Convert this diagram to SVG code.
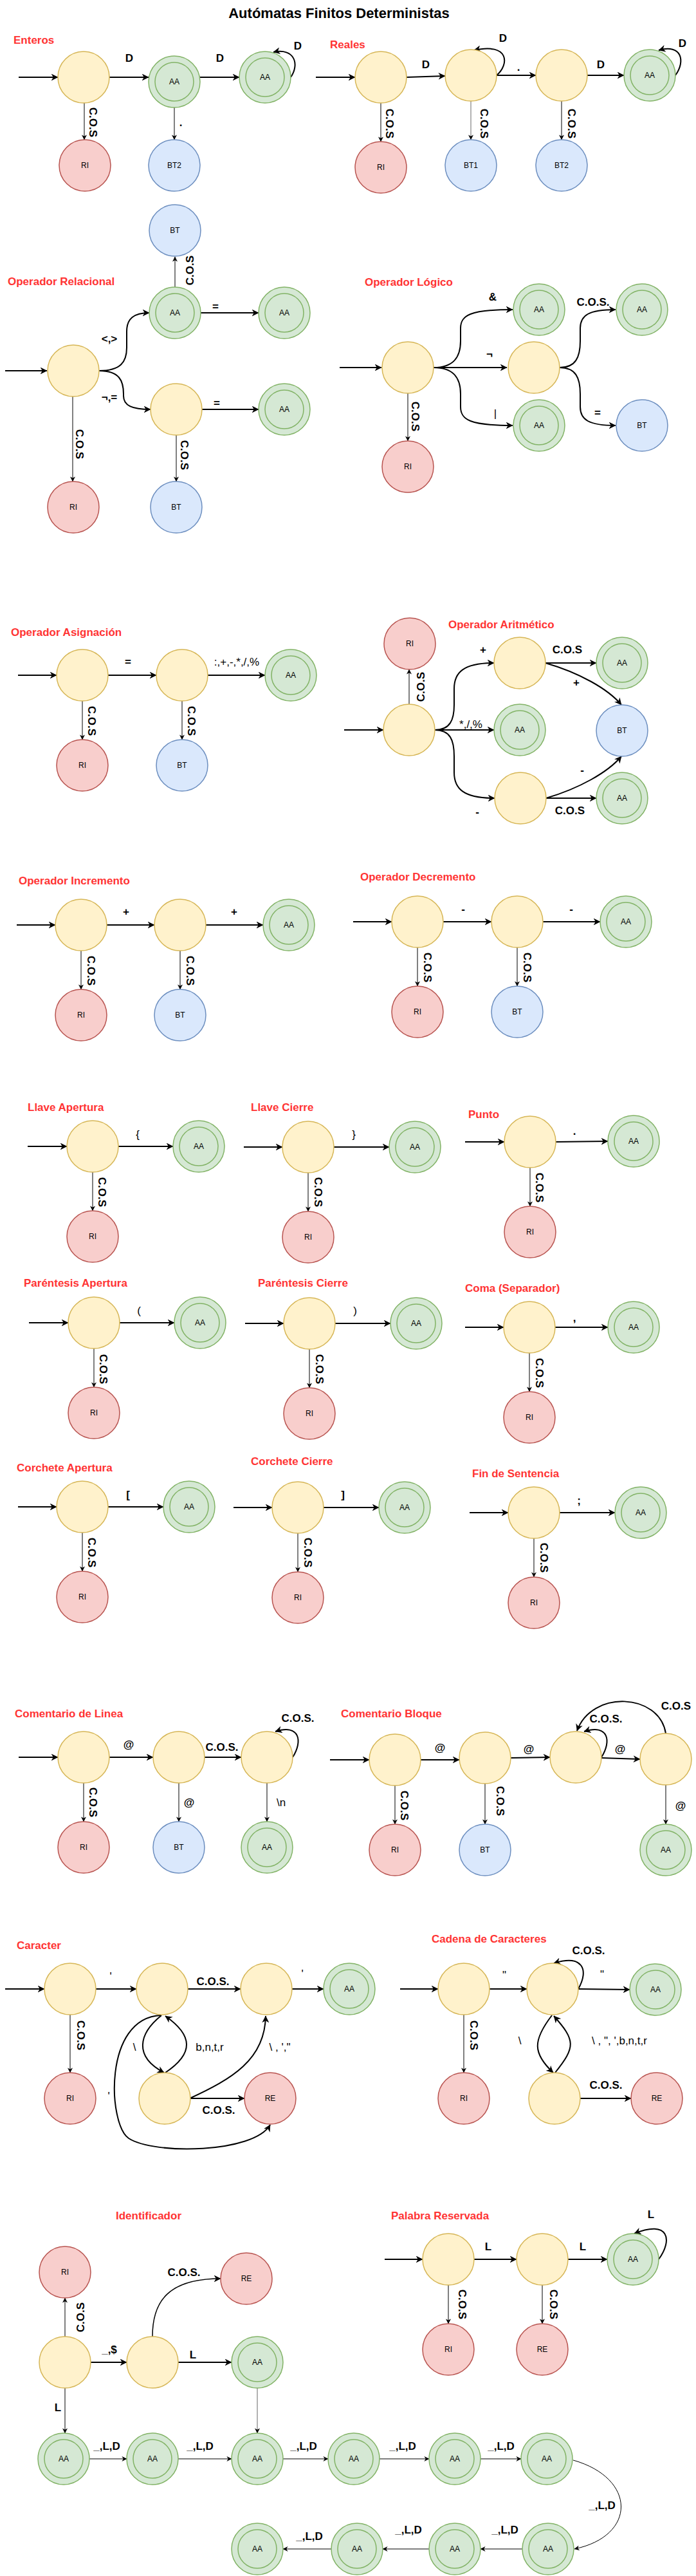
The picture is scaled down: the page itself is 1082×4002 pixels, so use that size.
<svg xmlns="http://www.w3.org/2000/svg" width="1082" height="4002" viewBox="0 0 1082 4002">
<style>
.y{fill:#fff2cc;stroke:#d6b656;stroke-width:1.5}
.g{fill:#d5e8d4;stroke:#82b366;stroke-width:1.5}
.r{fill:#f8cecc;stroke:#b85450;stroke-width:1.5}
.b{fill:#dae8fc;stroke:#6c8ebf;stroke-width:1.5}
text{font-family:"Liberation Sans",Arial,sans-serif;dominant-baseline:central}
.nt{font-size:12px;text-anchor:middle;fill:#000}
.t{fill:none;stroke:#000;stroke-width:2;marker-end:url(#ah)}
.n{fill:none;stroke:#000;stroke-width:1;marker-end:url(#as)}
.gr{stroke:#666}
.h{font-size:17px;font-weight:bold;fill:#ff3333}
.l{font-size:17px;font-weight:bold;text-anchor:middle;fill:#000}
.lr{font-size:17px;text-anchor:middle;fill:#000}
.tt{font-size:22px;font-weight:bold;text-anchor:middle;fill:#000}
</style>
<defs>
<marker id="ah" viewBox="0 0 10 10" refX="9.5" refY="5" markerWidth="11" markerHeight="11" markerUnits="userSpaceOnUse" orient="auto"><path d="M0,0 L10,5 L0,10 L3,5 Z" fill="#000"/></marker>
<marker id="as" viewBox="0 0 10 10" refX="9.5" refY="5" markerWidth="8" markerHeight="8" markerUnits="userSpaceOnUse" orient="auto"><path d="M0,0 L10,5 L0,10 L3,5 Z" fill="#000"/></marker>
</defs>
<rect width="1082" height="4002" fill="#fff"/>
<text class="tt" x="527" y="20">Autómatas Finitos Deterministas</text>

<g id="titles">
<text class="h" x="21" y="62">Enteros</text>
<text class="h" x="513" y="69">Reales</text>
<text class="h" x="12" y="437">Operador Relacional</text>
<text class="h" x="567" y="438">Operador Lógico</text>
<text class="h" x="17" y="982">Operador Asignación</text>
<text class="h" x="697" y="970">Operador Aritmético</text>
<text class="h" x="29" y="1368">Operador Incremento</text>
<text class="h" x="560" y="1362">Operador Decremento</text>
<text class="h" x="43" y="1720">Llave Apertura</text>
<text class="h" x="390" y="1720">Llave Cierre</text>
<text class="h" x="728" y="1731">Punto</text>
<text class="h" x="37" y="1993">Paréntesis Apertura</text>
<text class="h" x="401" y="1993">Paréntesis Cierre</text>
<text class="h" x="723" y="2001">Coma (Separador)</text>
<text class="h" x="26" y="2280">Corchete Apertura</text>
<text class="h" x="390" y="2270">Corchete Cierre</text>
<text class="h" x="734" y="2289">Fin de Sentencia</text>
<text class="h" x="23" y="2662">Comentario de Linea</text>
<text class="h" x="530" y="2662">Comentario Bloque</text>
<text class="h" x="26" y="3022">Caracter</text>
<text class="h" x="671" y="3012">Cadena de Caracteres</text>
<text class="h" x="180" y="3442">Identificador</text>
<text class="h" x="608" y="3442">Palabra Reservada</text>
</g>

<g id="connectors">
<!-- Enteros -->
<path class="t" d="M29,120 H90"/>
<path class="t" d="M170,120 H231"/>
<path class="t" d="M310,120 H372"/>
<path class="t" d="M452,120 C466,100 458,74 425,81"/>
<path class="n" d="M131,160 V217"/>
<path class="n" d="M271,167 V217"/>
<!-- Reales -->
<path class="t" d="M491,120 H552"/>
<path class="t" d="M632,120 L692,118"/>
<path class="t" d="M772,117 H833"/>
<path class="t" d="M913,117 H970"/>
<path class="t" d="M772,117 C792,100 792,66 737,78"/>
<path class="t" d="M1050,117 C1066,95 1060,68 1024,78"/>
<path class="n" d="M592,160 V220"/>
<path class="n gr" d="M732,157 V217"/>
<path class="n" d="M873,157 V217"/>
<!-- Relacional -->
<path class="t" d="M8,576 H73"/>
<path class="t" d="M154,576 C188,576 197,562 197,540 V515 C197,495 208,486 232,486"/>
<path class="t" d="M154,576 C186,576 192,592 192,612 V615 C192,630 205,636 234,636"/>
<path class="t" d="M312,486 H402"/>
<path class="t" d="M314,636 H402"/>
<path class="n" d="M272,446 V399"/>
<path class="n" d="M113,616 V748"/>
<path class="n" d="M274,676 V748"/>
<!-- Logico -->
<path class="t" d="M528,571 H593"/>
<path class="t" d="M674,571 C705,571 716,555 716,530 V510 C716,490 730,481 797,481"/>
<path class="t" d="M674,571 H788"/>
<path class="t" d="M674,571 C705,571 716,587 716,612 V632 C716,652 730,661 797,661"/>
<path class="t" d="M870,571 C895,571 902,555 902,530 V510 C902,490 915,481 957,481"/>
<path class="t" d="M870,571 C895,571 902,587 902,612 V632 C902,652 915,661 957,661"/>
<path class="n" d="M634,611 V685"/>
<!-- Asignacion -->
<path class="t" d="M28,1049 H88"/>
<path class="t" d="M168,1049 H243"/>
<path class="t" d="M323,1049 H412"/>
<path class="n" d="M128,1089 V1149"/>
<path class="n" d="M283,1089 V1149"/>
<!-- Aritmetico -->
<path class="t" d="M535,1134 H596"/>
<path class="n" d="M636,1094 V1040"/>
<path class="t" d="M676,1134 C700,1134 706,1118 706,1095 V1070 C706,1045 720,1030 768,1030"/>
<path class="t" d="M676,1134 H768"/>
<path class="t" d="M676,1134 C700,1134 706,1150 706,1175 V1200 C706,1225 720,1240 769,1240"/>
<path class="t" d="M848,1030 H927"/>
<path class="t" d="M848,1030 C900,1045 945,1070 966,1095"/>
<path class="t" d="M849,1240 H927"/>
<path class="t" d="M849,1240 C900,1225 945,1200 966,1175"/>
<!-- Incremento -->
<path class="t" d="M26,1437 H86"/>
<path class="t" d="M166,1437 H240"/>
<path class="t" d="M320,1437 H409"/>
<path class="n" d="M126,1477 V1537"/>
<path class="n" d="M280,1477 V1537"/>
<!-- Decremento -->
<path class="t" d="M549,1432 H609"/>
<path class="t" d="M689,1432 H764"/>
<path class="t" d="M844,1432 H933"/>
<path class="n" d="M649,1472 V1532"/>
<path class="n" d="M804,1472 V1532"/>
<!-- Llave Apertura -->
<path class="t" d="M43,1781 H104"/>
<path class="t" d="M184,1781 H269"/>
<path class="n" d="M144,1821 V1881"/>
<!-- Llave Cierre -->
<path class="t" d="M379,1782 H439"/>
<path class="t" d="M519,1782 H605"/>
<path class="n" d="M479,1822 V1882"/>
<!-- Punto -->
<path class="t" d="M723,1774 H784"/>
<path class="t" d="M864,1774 L945,1773"/>
<path class="n" d="M824,1814 V1874"/>
<!-- Parentesis Apertura -->
<path class="t" d="M45,2055 H106"/>
<path class="t" d="M186,2055 H271"/>
<path class="n" d="M146,2095 V2155"/>
<!-- Parentesis Cierre -->
<path class="t" d="M381,2056 H441"/>
<path class="t" d="M521,2056 H607"/>
<path class="n" d="M481,2096 V2156"/>
<!-- Coma -->
<path class="t" d="M723,2062 H783"/>
<path class="t" d="M863,2062 H945"/>
<path class="n" d="M823,2102 V2162"/>
<!-- Corchete Apertura -->
<path class="t" d="M28,2341 H88"/>
<path class="t" d="M168,2341 H254"/>
<path class="n" d="M128,2381 V2441"/>
<!-- Corchete Cierre -->
<path class="t" d="M363,2342 H423"/>
<path class="t" d="M503,2342 H589"/>
<path class="n" d="M463,2382 V2442"/>
<!-- Fin de Sentencia -->
<path class="t" d="M730,2350 H790"/>
<path class="t" d="M870,2350 H956"/>
<path class="n" d="M830,2390 V2450"/>
<!-- Comentario de Linea -->
<path class="t" d="M29,2730 H90"/>
<path class="t" d="M170,2730 H238"/>
<path class="t" d="M318,2730 H375"/>
<path class="t" d="M455,2730 C471,2705 466,2678 428,2690"/>
<path class="n" d="M130,2770 V2830"/>
<path class="n" d="M278,2770 V2830"/>
<path class="n" d="M415,2770 V2830"/>
<!-- Comentario Bloque -->
<path class="t" d="M513,2734 H574"/>
<path class="t" d="M654,2734 H714"/>
<path class="t" d="M794,2731 L855,2730"/>
<path class="t" d="M935,2731 L995,2733"/>
<path class="t" d="M935,2730 C951,2705 946,2678 908,2690"/>
<path class="t" d="M1035,2693 C1025,2630 920,2625 897,2689"/>
<path class="n" d="M614,2774 V2834"/>
<path class="n" d="M754,2771 V2834"/>
<path class="n" d="M1035,2773 V2834"/>
<!-- Caracter -->
<path class="t" d="M8,3090 H69"/>
<path class="t" d="M149,3090 H212"/>
<path class="t" d="M292,3090 H374"/>
<path class="t" d="M454,3090 H503"/>
<path class="n" d="M109,3130 V3220"/>
<path class="t" d="M251,3131 C215,3160 208,3195 255,3220"/>
<path class="t" d="M257,3220 C302,3190 300,3162 257,3132"/>
<path class="t" d="M295,3260 C360,3230 412,3200 413,3132"/>
<path class="t" d="M296,3260 H380"/>
<path class="t" d="M250,3131 C160,3135 168,3300 200,3322 C240,3348 395,3345 420,3301"/>
<!-- Cadena -->
<path class="t" d="M622,3090 H681"/>
<path class="t" d="M761,3090 H819"/>
<path class="t" d="M899,3090 C916,3060 906,3036 861,3050"/>
<path class="t" d="M899,3090 L979,3091"/>
<path class="n" d="M721,3130 V3220"/>
<path class="t" d="M858,3131 C828,3170 828,3190 860,3220"/>
<path class="t" d="M863,3220 C895,3180 895,3170 861,3132"/>
<path class="t" d="M902,3260 H981"/>
<!-- Identificador -->
<path class="n" d="M101,3630 V3570"/>
<path class="t" d="M141,3670 H197"/>
<path class="t" style="stroke-width:1.5" d="M237,3630 C237,3575 262,3540 343,3540"/>
<path class="t" d="M277,3670 H360"/>
<path class="n" d="M101,3710 V3780"/>
<path class="n gr" d="M400,3710 V3780"/>
<path class="n" d="M139,3820 H197"/>
<path class="n" d="M277,3820 H360"/>
<path class="n" d="M440,3820 H510"/>
<path class="n" d="M590,3820 H667"/>
<path class="n" d="M747,3820 H810"/>
<path class="n" d="M891,3822 C990,3850 990,3940 893,3960"/>
<path class="n" d="M812,3960 H747"/>
<path class="n" d="M667,3960 H595"/>
<path class="n" d="M515,3960 H440"/>
<!-- Palabra Reservada -->
<path class="t" d="M598,3510 H657"/>
<path class="t" d="M737,3510 H803"/>
<path class="t" d="M883,3510 H944"/>
<path class="t" d="M1024,3510 C1046,3480 1040,3448 986,3470"/>
<path class="n" d="M697,3550 V3610"/>
<path class="n" d="M843,3550 V3610"/>
</g>

<g id="edge-labels">
<text class="l" x="201" y="90">D</text>
<text class="l" x="342" y="90">D</text>
<text class="l" x="463" y="71">D</text>
<text class="l" x="144" y="190" transform="rotate(90 144 190)">C.O.S</text>
<text class="l" x="281" y="190">.</text>
<text class="l" x="662" y="100">D</text>
<text class="l" x="806" y="104">.</text>
<text class="l" x="934" y="100">D</text>
<text class="l" x="782" y="59">D</text>
<text class="l" x="1061" y="67">D</text>
<text class="l" x="605" y="192" transform="rotate(90 605 192)">C.O.S</text>
<text class="l" x="752" y="192" transform="rotate(90 752 192)">C.O.S</text>
<text class="l" x="888" y="192" transform="rotate(90 888 192)">C.O.S</text>

<text class="l" x="170" y="526">&lt;,&gt;</text>
<text class="l" x="170" y="617">¬,=</text>
<text class="l" x="335" y="476">=</text>
<text class="l" x="337" y="626">=</text>
<text class="l" x="295" y="420" transform="rotate(-90 295 420)">C.O.S</text>
<text class="l" x="123" y="690" transform="rotate(90 123 690)">C.O.S</text>
<text class="l" x="286" y="707" transform="rotate(90 286 707)">C.O.S</text>
<text class="l" x="766" y="461">&amp;</text>
<text class="l" x="761" y="550">¬</text>
<text class="lr" x="770" y="642">|</text>
<text class="l" x="922" y="469">C.O.S.</text>
<text class="l" x="929" y="641">=</text>
<text class="l" x="645" y="647" transform="rotate(90 645 647)">C.O.S</text>

<text class="l" x="199" y="1028">=</text>
<text class="lr" x="368" y="1028">:,+,-,*,/,%</text>
<text class="l" x="142" y="1120" transform="rotate(90 142 1120)">C.O.S</text>
<text class="l" x="297" y="1120" transform="rotate(90 297 1120)">C.O.S</text>
<text class="l" x="654" y="1067" transform="rotate(-90 654 1067)">C.O.S</text>
<text class="l" x="751" y="1009">+</text>
<text class="lr" x="732" y="1125">*,/,%</text>
<text class="l" x="742" y="1261">-</text>
<text class="l" x="882" y="1009">C.O.S</text>
<text class="l" x="896" y="1060">+</text>
<text class="l" x="886" y="1259">C.O.S</text>
<text class="l" x="905" y="1196">-</text>

<text class="l" x="196" y="1416">+</text>
<text class="l" x="364" y="1416">+</text>
<text class="l" x="141" y="1508" transform="rotate(90 141 1508)">C.O.S</text>
<text class="l" x="295" y="1508" transform="rotate(90 295 1508)">C.O.S</text>
<text class="l" x="720" y="1412">-</text>
<text class="l" x="888" y="1412">-</text>
<text class="l" x="664" y="1503" transform="rotate(90 664 1503)">C.O.S</text>
<text class="l" x="819" y="1503" transform="rotate(90 819 1503)">C.O.S</text>

<text class="lr" x="214" y="1762">{</text>
<text class="l" x="158" y="1852" transform="rotate(90 158 1852)">C.O.S</text>
<text class="lr" x="550" y="1762">}</text>
<text class="l" x="494" y="1852" transform="rotate(90 494 1852)">C.O.S</text>
<text class="l" x="893" y="1757">.</text>
<text class="l" x="838" y="1845" transform="rotate(90 838 1845)">C.O.S</text>

<text class="lr" x="216" y="2036">(</text>
<text class="l" x="160" y="2127" transform="rotate(90 160 2127)">C.O.S</text>
<text class="lr" x="552" y="2036">)</text>
<text class="l" x="496" y="2127" transform="rotate(90 496 2127)">C.O.S</text>
<text class="l" x="893" y="2047">,</text>
<text class="l" x="838" y="2133" transform="rotate(90 838 2133)">C.O.S</text>

<text class="l" x="199" y="2322">[</text>
<text class="l" x="142" y="2412" transform="rotate(90 142 2412)">C.O.S</text>
<text class="l" x="533" y="2322">]</text>
<text class="l" x="478" y="2412" transform="rotate(90 478 2412)">C.O.S</text>
<text class="l" x="900" y="2331">;</text>
<text class="l" x="845" y="2420" transform="rotate(90 845 2420)">C.O.S</text>

<text class="l" x="200" y="2710">@</text>
<text class="l" x="345" y="2714">C.O.S.</text>
<text class="l" x="463" y="2669">C.O.S.</text>
<text class="l" x="144" y="2800" transform="rotate(90 144 2800)">C.O.S</text>
<text class="l" x="294" y="2800">@</text>
<text class="lr" x="437" y="2800">\n</text>
<text class="l" x="684" y="2715">@</text>
<text class="l" x="822" y="2717">@</text>
<text class="l" x="964" y="2717">@</text>
<text class="l" x="942" y="2670">C.O.S.</text>
<text class="l" x="1051" y="2650">C.O.S</text>
<text class="l" x="628" y="2805" transform="rotate(90 628 2805)">C.O.S</text>
<text class="l" x="777" y="2798" transform="rotate(90 777 2798)">C.O.S</text>
<text class="l" x="1058" y="2805">@</text>

<text class="lr" x="172" y="3070">'</text>
<text class="l" x="331" y="3078">C.O.S.</text>
<text class="lr" x="470" y="3066">'</text>
<text class="l" x="125" y="3162" transform="rotate(90 125 3162)">C.O.S</text>
<text class="lr" x="209" y="3180">\</text>
<text class="lr" x="326" y="3180">b,n,t,r</text>
<text class="lr" x="435" y="3180">\ , ',"</text>
<text class="l" x="340" y="3278">C.O.S.</text>
<text class="lr" x="169" y="3256">'</text>

<text class="lr" x="784" y="3068">"</text>
<text class="l" x="915" y="3030">C.O.S.</text>
<text class="lr" x="936" y="3067">"</text>
<text class="l" x="736" y="3162" transform="rotate(90 736 3162)">C.O.S</text>
<text class="lr" x="808" y="3170">\</text>
<text class="lr" x="963" y="3170">\ , ", ',b,n,t,r</text>
<text class="l" x="942" y="3239">C.O.S.</text>

<text class="l" x="125" y="3600" transform="rotate(-90 125 3600)">C.O.S</text>
<text class="l" x="170" y="3650">_,$</text>
<text class="l" x="286" y="3530">C.O.S.</text>
<text class="l" x="300" y="3658">L</text>
<text class="l" x="90" y="3740">L</text>
<text class="l" x="166" y="3800">_,L,D</text>
<text class="l" x="311" y="3800">_,L,D</text>
<text class="l" x="472" y="3800">_,L,D</text>
<text class="l" x="626" y="3800">_,L,D</text>
<text class="l" x="779" y="3800">_,L,D</text>
<text class="l" x="936" y="3892">_,L,D</text>
<text class="l" x="785" y="3930">_,L,D</text>
<text class="l" x="635" y="3930">_,L,D</text>
<text class="l" x="481" y="3940">_,L,D</text>

<text class="l" x="759" y="3490">L</text>
<text class="l" x="906" y="3490">L</text>
<text class="l" x="1012" y="3440">L</text>
<text class="l" x="718" y="3580" transform="rotate(90 718 3580)">C.O.S</text>
<text class="l" x="860" y="3580" transform="rotate(90 860 3580)">C.O.S</text>
</g>

<!-- Enteros nodes -->
<g id="ent-s0"><circle class="y" cx="130" cy="120" r="40"/></g>
<g id="ent-aa1"><circle class="g" cx="271" cy="127" r="40"/><circle class="g" cx="271" cy="127" r="30"/><text class="nt" x="271" y="127">AA</text></g>
<g id="ent-aa2"><circle class="g" cx="412" cy="120" r="40"/><circle class="g" cx="412" cy="120" r="30"/><text class="nt" x="412" y="120">AA</text></g>
<g id="ent-ri"><circle class="r" cx="132" cy="257" r="40"/><text class="nt" x="132" y="257">RI</text></g>
<g id="ent-bt2"><circle class="b" cx="271" cy="257" r="40"/><text class="nt" x="271" y="257">BT2</text></g>
<!-- Reales -->
<g id="rea-s0"><circle class="y" cx="592" cy="120" r="40"/></g>
<g id="rea-s1"><circle class="y" cx="732" cy="117" r="40"/></g>
<g id="rea-s2"><circle class="y" cx="873" cy="117" r="40"/></g>
<g id="rea-aa"><circle class="g" cx="1010" cy="117" r="40"/><circle class="g" cx="1010" cy="117" r="30"/><text class="nt" x="1010" y="117">AA</text></g>
<g id="rea-ri"><circle class="r" cx="592" cy="260" r="40"/><text class="nt" x="592" y="260">RI</text></g>
<g id="rea-bt1"><circle class="b" cx="732" cy="257" r="40"/><text class="nt" x="732" y="257">BT1</text></g>
<g id="rea-bt2"><circle class="b" cx="873" cy="257" r="40"/><text class="nt" x="873" y="257">BT2</text></g>
<!-- Relacional -->
<g id="rel-s0"><circle class="y" cx="114" cy="576" r="40"/></g>
<g id="rel-aa1"><circle class="g" cx="272" cy="486" r="40"/><circle class="g" cx="272" cy="486" r="30"/><text class="nt" x="272" y="486">AA</text></g>
<g id="rel-aa2"><circle class="g" cx="442" cy="486" r="40"/><circle class="g" cx="442" cy="486" r="30"/><text class="nt" x="442" y="486">AA</text></g>
<g id="rel-s1"><circle class="y" cx="274" cy="636" r="40"/></g>
<g id="rel-aa3"><circle class="g" cx="442" cy="636" r="40"/><circle class="g" cx="442" cy="636" r="30"/><text class="nt" x="442" y="636">AA</text></g>
<g id="rel-ri"><circle class="r" cx="114" cy="788" r="40"/><text class="nt" x="114" y="788">RI</text></g>
<g id="rel-bt"><circle class="b" cx="274" cy="788" r="40"/><text class="nt" x="274" y="788">BT</text></g>
<g id="rel-bt0"><circle class="b" cx="272" cy="358" r="40"/><text class="nt" x="272" y="358">BT</text></g>
<!-- Logico -->
<g id="log-s0"><circle class="y" cx="634" cy="571" r="40"/></g>
<g id="log-aa1"><circle class="g" cx="838" cy="481" r="40"/><circle class="g" cx="838" cy="481" r="30"/><text class="nt" x="838" y="481">AA</text></g>
<g id="log-s1"><circle class="y" cx="830" cy="571" r="40"/></g>
<g id="log-aa2"><circle class="g" cx="998" cy="481" r="40"/><circle class="g" cx="998" cy="481" r="30"/><text class="nt" x="998" y="481">AA</text></g>
<g id="log-aa3"><circle class="g" cx="838" cy="661" r="40"/><circle class="g" cx="838" cy="661" r="30"/><text class="nt" x="838" y="661">AA</text></g>
<g id="log-bt"><circle class="b" cx="998" cy="661" r="40"/><text class="nt" x="998" y="661">BT</text></g>
<g id="log-ri"><circle class="r" cx="634" cy="725" r="40"/><text class="nt" x="634" y="725">RI</text></g>
<!-- Asignacion -->
<g id="asi-s0"><circle class="y" cx="128" cy="1049" r="40"/></g>
<g id="asi-s1"><circle class="y" cx="283" cy="1049" r="40"/></g>
<g id="asi-aa"><circle class="g" cx="452" cy="1049" r="40"/><circle class="g" cx="452" cy="1049" r="30"/><text class="nt" x="452" y="1049">AA</text></g>
<g id="asi-ri"><circle class="r" cx="128" cy="1189" r="40"/><text class="nt" x="128" y="1189">RI</text></g>
<g id="asi-bt"><circle class="b" cx="283" cy="1189" r="40"/><text class="nt" x="283" y="1189">BT</text></g>
<!-- Aritmetico -->
<g id="ari-ri"><circle class="r" cx="637" cy="1000" r="40"/><text class="nt" x="637" y="1000">RI</text></g>
<g id="ari-s0"><circle class="y" cx="636" cy="1134" r="40"/></g>
<g id="ari-sp"><circle class="y" cx="808" cy="1030" r="40"/></g>
<g id="ari-aa1"><circle class="g" cx="967" cy="1030" r="40"/><circle class="g" cx="967" cy="1030" r="30"/><text class="nt" x="967" y="1030">AA</text></g>
<g id="ari-aa2"><circle class="g" cx="808" cy="1134" r="40"/><circle class="g" cx="808" cy="1134" r="30"/><text class="nt" x="808" y="1134">AA</text></g>
<g id="ari-bt"><circle class="b" cx="967" cy="1135" r="40"/><text class="nt" x="967" y="1135">BT</text></g>
<g id="ari-sm"><circle class="y" cx="809" cy="1240" r="40"/></g>
<g id="ari-aa3"><circle class="g" cx="967" cy="1240" r="40"/><circle class="g" cx="967" cy="1240" r="30"/><text class="nt" x="967" y="1240">AA</text></g>
<!-- Incremento -->
<g id="inc-s0"><circle class="y" cx="126" cy="1437" r="40"/></g>
<g id="inc-s1"><circle class="y" cx="280" cy="1437" r="40"/></g>
<g id="inc-aa"><circle class="g" cx="449" cy="1437" r="40"/><circle class="g" cx="449" cy="1437" r="30"/><text class="nt" x="449" y="1437">AA</text></g>
<g id="inc-ri"><circle class="r" cx="126" cy="1577" r="40"/><text class="nt" x="126" y="1577">RI</text></g>
<g id="inc-bt"><circle class="b" cx="280" cy="1577" r="40"/><text class="nt" x="280" y="1577">BT</text></g>
<!-- Decremento -->
<g id="dec-s0"><circle class="y" cx="649" cy="1432" r="40"/></g>
<g id="dec-s1"><circle class="y" cx="804" cy="1432" r="40"/></g>
<g id="dec-aa"><circle class="g" cx="973" cy="1432" r="40"/><circle class="g" cx="973" cy="1432" r="30"/><text class="nt" x="973" y="1432">AA</text></g>
<g id="dec-ri"><circle class="r" cx="649" cy="1572" r="40"/><text class="nt" x="649" y="1572">RI</text></g>
<g id="dec-bt"><circle class="b" cx="804" cy="1572" r="40"/><text class="nt" x="804" y="1572">BT</text></g>
<!-- Llave Apertura -->
<g id="lla-s0"><circle class="y" cx="144" cy="1781" r="40"/></g>
<g id="lla-aa"><circle class="g" cx="309" cy="1781" r="40"/><circle class="g" cx="309" cy="1781" r="30"/><text class="nt" x="309" y="1781">AA</text></g>
<g id="lla-ri"><circle class="r" cx="144" cy="1921" r="40"/><text class="nt" x="144" y="1921">RI</text></g>
<!-- Llave Cierre -->
<g id="llc-s0"><circle class="y" cx="479" cy="1782" r="40"/></g>
<g id="llc-aa"><circle class="g" cx="645" cy="1782" r="40"/><circle class="g" cx="645" cy="1782" r="30"/><text class="nt" x="645" y="1782">AA</text></g>
<g id="llc-ri"><circle class="r" cx="479" cy="1922" r="40"/><text class="nt" x="479" y="1922">RI</text></g>
<!-- Punto -->
<g id="pun-s0"><circle class="y" cx="824" cy="1774" r="40"/></g>
<g id="pun-aa"><circle class="g" cx="985" cy="1773" r="40"/><circle class="g" cx="985" cy="1773" r="30"/><text class="nt" x="985" y="1773">AA</text></g>
<g id="pun-ri"><circle class="r" cx="824" cy="1914" r="40"/><text class="nt" x="824" y="1914">RI</text></g>
<!-- Parentesis Apertura -->
<g id="paa-s0"><circle class="y" cx="146" cy="2055" r="40"/></g>
<g id="paa-aa"><circle class="g" cx="311" cy="2055" r="40"/><circle class="g" cx="311" cy="2055" r="30"/><text class="nt" x="311" y="2055">AA</text></g>
<g id="paa-ri"><circle class="r" cx="146" cy="2195" r="40"/><text class="nt" x="146" y="2195">RI</text></g>
<!-- Parentesis Cierre -->
<g id="pac-s0"><circle class="y" cx="481" cy="2056" r="40"/></g>
<g id="pac-aa"><circle class="g" cx="647" cy="2056" r="40"/><circle class="g" cx="647" cy="2056" r="30"/><text class="nt" x="647" y="2056">AA</text></g>
<g id="pac-ri"><circle class="r" cx="481" cy="2196" r="40"/><text class="nt" x="481" y="2196">RI</text></g>
<!-- Coma -->
<g id="com-s0"><circle class="y" cx="823" cy="2062" r="40"/></g>
<g id="com-aa"><circle class="g" cx="985" cy="2062" r="40"/><circle class="g" cx="985" cy="2062" r="30"/><text class="nt" x="985" y="2062">AA</text></g>
<g id="com-ri"><circle class="r" cx="823" cy="2202" r="40"/><text class="nt" x="823" y="2202">RI</text></g>
<!-- Corchete Apertura -->
<g id="coa-s0"><circle class="y" cx="128" cy="2341" r="40"/></g>
<g id="coa-aa"><circle class="g" cx="294" cy="2341" r="40"/><circle class="g" cx="294" cy="2341" r="30"/><text class="nt" x="294" y="2341">AA</text></g>
<g id="coa-ri"><circle class="r" cx="128" cy="2481" r="40"/><text class="nt" x="128" y="2481">RI</text></g>
<!-- Corchete Cierre -->
<g id="coc-s0"><circle class="y" cx="463" cy="2342" r="40"/></g>
<g id="coc-aa"><circle class="g" cx="629" cy="2342" r="40"/><circle class="g" cx="629" cy="2342" r="30"/><text class="nt" x="629" y="2342">AA</text></g>
<g id="coc-ri"><circle class="r" cx="463" cy="2482" r="40"/><text class="nt" x="463" y="2482">RI</text></g>
<!-- Fin de Sentencia -->
<g id="fin-s0"><circle class="y" cx="830" cy="2350" r="40"/></g>
<g id="fin-aa"><circle class="g" cx="996" cy="2350" r="40"/><circle class="g" cx="996" cy="2350" r="30"/><text class="nt" x="996" y="2350">AA</text></g>
<g id="fin-ri"><circle class="r" cx="830" cy="2490" r="40"/><text class="nt" x="830" y="2490">RI</text></g>
<!-- Comentario de Linea -->
<g id="cl-s0"><circle class="y" cx="130" cy="2730" r="40"/></g>
<g id="cl-s1"><circle class="y" cx="278" cy="2730" r="40"/></g>
<g id="cl-s2"><circle class="y" cx="415" cy="2730" r="40"/></g>
<g id="cl-ri"><circle class="r" cx="130" cy="2870" r="40"/><text class="nt" x="130" y="2870">RI</text></g>
<g id="cl-bt"><circle class="b" cx="278" cy="2870" r="40"/><text class="nt" x="278" y="2870">BT</text></g>
<g id="cl-aa"><circle class="g" cx="415" cy="2870" r="40"/><circle class="g" cx="415" cy="2870" r="30"/><text class="nt" x="415" y="2870">AA</text></g>
<!-- Comentario Bloque -->
<g id="cb-s0"><circle class="y" cx="614" cy="2734" r="40"/></g>
<g id="cb-s1"><circle class="y" cx="754" cy="2731" r="40"/></g>
<g id="cb-s2"><circle class="y" cx="895" cy="2730" r="40"/></g>
<g id="cb-s3"><circle class="y" cx="1035" cy="2733" r="40"/></g>
<g id="cb-ri"><circle class="r" cx="614" cy="2874" r="40"/><text class="nt" x="614" y="2874">RI</text></g>
<g id="cb-bt"><circle class="b" cx="754" cy="2874" r="40"/><text class="nt" x="754" y="2874">BT</text></g>
<g id="cb-aa"><circle class="g" cx="1035" cy="2874" r="40"/><circle class="g" cx="1035" cy="2874" r="30"/><text class="nt" x="1035" y="2874">AA</text></g>
<!-- Caracter -->
<g id="car-s0"><circle class="y" cx="109" cy="3090" r="40"/></g>
<g id="car-s1"><circle class="y" cx="252" cy="3090" r="40"/></g>
<g id="car-s2"><circle class="y" cx="414" cy="3090" r="40"/></g>
<g id="car-aa"><circle class="g" cx="543" cy="3090" r="40"/><circle class="g" cx="543" cy="3090" r="30"/><text class="nt" x="543" y="3090">AA</text></g>
<g id="car-ri"><circle class="r" cx="109" cy="3260" r="40"/><text class="nt" x="109" y="3260">RI</text></g>
<g id="car-s3"><circle class="y" cx="256" cy="3260" r="40"/></g>
<g id="car-re"><circle class="r" cx="420" cy="3260" r="40"/><text class="nt" x="420" y="3260">RE</text></g>
<!-- Cadena -->
<g id="cad-s0"><circle class="y" cx="721" cy="3090" r="40"/></g>
<g id="cad-s1"><circle class="y" cx="859" cy="3090" r="40"/></g>
<g id="cad-aa"><circle class="g" cx="1019" cy="3091" r="40"/><circle class="g" cx="1019" cy="3091" r="30"/><text class="nt" x="1019" y="3091">AA</text></g>
<g id="cad-ri"><circle class="r" cx="721" cy="3260" r="40"/><text class="nt" x="721" y="3260">RI</text></g>
<g id="cad-s3"><circle class="y" cx="862" cy="3260" r="40"/></g>
<g id="cad-re"><circle class="r" cx="1021" cy="3260" r="40"/><text class="nt" x="1021" y="3260">RE</text></g>
<!-- Identificador -->
<g id="id-ri"><circle class="r" cx="101" cy="3530" r="40"/><text class="nt" x="101" y="3530">RI</text></g>
<g id="id-re"><circle class="r" cx="383" cy="3540" r="40"/><text class="nt" x="383" y="3540">RE</text></g>
<g id="id-s0"><circle class="y" cx="101" cy="3670" r="40"/></g>
<g id="id-s1"><circle class="y" cx="237" cy="3670" r="40"/></g>
<g id="id-aa0"><circle class="g" cx="400" cy="3670" r="40"/><circle class="g" cx="400" cy="3670" r="30"/><text class="nt" x="400" y="3670">AA</text></g>
<g id="id-r1"><circle class="g" cx="99" cy="3820" r="40"/><circle class="g" cx="99" cy="3820" r="30"/><text class="nt" x="99" y="3820">AA</text></g>
<g id="id-r2"><circle class="g" cx="237" cy="3820" r="40"/><circle class="g" cx="237" cy="3820" r="30"/><text class="nt" x="237" y="3820">AA</text></g>
<g id="id-r3"><circle class="g" cx="400" cy="3820" r="40"/><circle class="g" cx="400" cy="3820" r="30"/><text class="nt" x="400" y="3820">AA</text></g>
<g id="id-r4"><circle class="g" cx="550" cy="3820" r="40"/><circle class="g" cx="550" cy="3820" r="30"/><text class="nt" x="550" y="3820">AA</text></g>
<g id="id-r5"><circle class="g" cx="707" cy="3820" r="40"/><circle class="g" cx="707" cy="3820" r="30"/><text class="nt" x="707" y="3820">AA</text></g>
<g id="id-r6"><circle class="g" cx="850" cy="3820" r="40"/><circle class="g" cx="850" cy="3820" r="30"/><text class="nt" x="850" y="3820">AA</text></g>
<g id="id-r7"><circle class="g" cx="852" cy="3960" r="40"/><circle class="g" cx="852" cy="3960" r="30"/><text class="nt" x="852" y="3960">AA</text></g>
<g id="id-r8"><circle class="g" cx="707" cy="3960" r="40"/><circle class="g" cx="707" cy="3960" r="30"/><text class="nt" x="707" y="3960">AA</text></g>
<g id="id-r9"><circle class="g" cx="555" cy="3960" r="40"/><circle class="g" cx="555" cy="3960" r="30"/><text class="nt" x="555" y="3960">AA</text></g>
<g id="id-r10"><circle class="g" cx="400" cy="3960" r="40"/><circle class="g" cx="400" cy="3960" r="30"/><text class="nt" x="400" y="3960">AA</text></g>
<!-- Palabra Reservada -->
<g id="pr-s0"><circle class="y" cx="697" cy="3510" r="40"/></g>
<g id="pr-s1"><circle class="y" cx="843" cy="3510" r="40"/></g>
<g id="pr-aa"><circle class="g" cx="984" cy="3510" r="40"/><circle class="g" cx="984" cy="3510" r="30"/><text class="nt" x="984" y="3510">AA</text></g>
<g id="pr-ri"><circle class="r" cx="697" cy="3650" r="40"/><text class="nt" x="697" y="3650">RI</text></g>
<g id="pr-re"><circle class="r" cx="843" cy="3650" r="40"/><text class="nt" x="843" y="3650">RE</text></g>
</svg>
